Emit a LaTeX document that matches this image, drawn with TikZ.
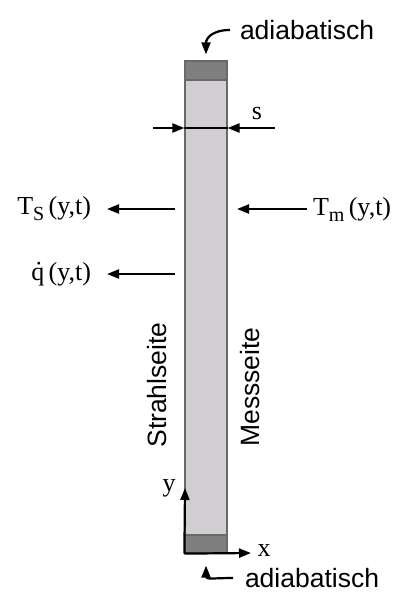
\documentclass[tikz,border=0pt]{standalone}
\usepackage{fontspec}
\usepackage{tikz}
\usetikzlibrary{arrows.meta,calc,positioning}

\newfontfamily\arialfont{Liberation Sans}
\newfontfamily\timesfont{Liberation Serif}
\newcommand{\tiefindex}[1]{\raisebox{-6pt}{\fontsize{20}{22}\selectfont #1}}
\definecolor{stabgrau}{RGB}{208,206,208}
\definecolor{kappengrau}{RGB}{127,127,127}
\definecolor{randgrau}{RGB}{105,105,105}

\begin{document}
\begin{tikzpicture}[x=1pt, y=-1pt,
    pfeil/.style={line width=2.2pt, -{Triangle[length=12pt,width=9pt]}},
    stab/.style={draw=randgrau, line width=1.2pt, fill=stabgrau, minimum width=42pt, inner sep=0pt},
    kappe/.style={draw=randgrau, line width=1.2pt, fill=kappengrau, minimum width=42pt, inner sep=0pt},
    sans/.style={font=\arialfont\fontsize{26.5}{30}\selectfont, inner sep=0pt},
    serif/.style={font=\timesfont\fontsize{26}{30}\selectfont, inner sep=0pt}]

    \useasboundingbox (0,0) rectangle (398,592);

    % --- Stab mit adiabaten Enden ---
    \node[stab, minimum height=492pt] (stab) at (206,307) {};
    \node[kappe, minimum height=19pt, anchor=north] (oben) at (stab.north) {};
    \node[kappe, minimum height=18pt, anchor=south] (unten) at (stab.south) {};

    % --- Dicke s ---
    \coordinate (sl) at (153,128);
    \coordinate (sr) at (275,128);
    \draw[line width=1.6pt] (stab.west |- sl) -- (stab.east |- sr);
    \draw[pfeil] (sl) -- (stab.west |- sl);
    \draw[pfeil] (sr) -- (stab.east |- sr);
    \node[serif] (s) at (257,113) {s};

    % --- Temperaturen und Waermestrom ---
    \coordinate (tsa) at (175,209);
    \coordinate (tma) at (237,209);
    \coordinate (qa) at (175,274);
    \node[serif, anchor=east, outer xsep=16pt] (ts) at (107,209) {T\tiefindex{S}\,(y,t)};
    \node[serif, anchor=west, outer xsep=6pt] (tm) at (307,209) {T\tiefindex{m}\,(y,t)};
    \node[serif, anchor=east, outer xsep=16pt] (q) at (107,274) {\.q\,(y,t)};
    \draw[pfeil] (tsa) -- (ts.east);
    \draw[pfeil] (tm.west) -- (tma);
    \draw[pfeil] (qa) -- (q.east);

    % --- Seiten ---
    \node[sans, rotate=90] (strahl) at (157,385) {Strahlseite};
    \node[sans, rotate=90] (mess) at (250,387) {Messseite};

    % --- Koordinatensystem ---
    \coordinate (ursprung) at (stab.south west);
    \coordinate (xend) at (251,553);
    \coordinate (yend) at (185,488);
    \draw[pfeil] (ursprung) -- (xend);
    \draw[pfeil] (ursprung) -- (yend);
    \node[serif] (xl) at (264,551) {x};
    \node[serif] (yl) at (169,488) {y};

    % --- adiabatisch ---
    \node[sans, anchor=west, outer xsep=10pt] (adoben) at (230,30) {adiabatisch};
    \node[sans, anchor=west, outer xsep=12pt] (adunten) at (233,578) {adiabatisch};
    \draw[pfeil, shorten >=6pt] (adoben.west) .. controls +(-18,0) and +(0,-22) .. (oben.north);
    \draw[pfeil, shorten >=12pt] (adunten.west) .. controls +(-18,0) and +(0,26) .. (unten.south);

\end{tikzpicture}
\end{document}
